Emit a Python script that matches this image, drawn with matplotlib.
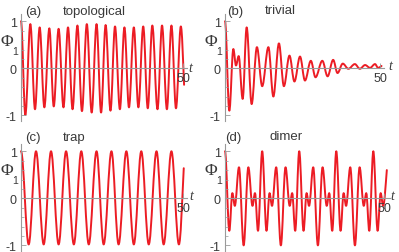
import matplotlib
matplotlib.use("Agg")
import matplotlib.pyplot as plt
from matplotlib.path import Path
from matplotlib.patches import PathPatch

plt.rcParams["axes.unicode_minus"] = False

# turning points of each curve (t, Phi_1);
# the last entry is where the curve stops
topo_t = [0, 1.34, 2.88, 4.32, 5.76, 7.20, 8.74, 10.1, 11.6, 13.1, 14.5, 15.9,
          17.4, 18.8, 20.3, 21.8, 23.3, 24.7, 26.1, 27.6, 29.0, 30.5, 31.9, 33.3,
          34.8, 36.2, 37.7, 39.1, 40.5, 42.1, 43.5, 45.0, 46.4, 47.8, 49.3, 50.3]
topo_v = [1.0, -0.99, 0.94, -0.87, 0.87, -0.83, 0.85, -0.81, 0.84, -0.83, 0.87, -0.87,
          0.91, -0.91, 0.94, -0.94, 0.94, -0.94, 0.92, -0.90, 0.89, -0.87, 0.87, -0.83,
          0.87, -0.83, 0.89, -0.85, 0.91, -0.87, 0.91, -0.87, 0.91, -0.85, 0.89, -0.35]

triv_t = [0, 1.40, 2.69, 3.55, 4.41, 5.70, 6.99, 8.60, 10.3, 12.0, 14.0, 15.6, 17.4,
          19.0, 20.8, 22.4, 24.2, 25.8, 27.7, 29.2, 31.4, 33.1, 34.9, 36.3, 38.0,
          39.8, 41.9, 43.5, 45.2, 46.8, 48.4, 49.4, 50.5]
triv_v = [1.0, -0.90, 0.41, 0.06, 0.26, -0.65, 0.87, -0.76, 0.45, -0.38, 0.45, -0.60, 0.53,
          -0.38, 0.27, -0.28, 0.25, -0.26, 0.16, -0.19, 0.16, -0.17, 0.18, -0.10, 0.10,
          -0.01, 0.09, -0.01, 0.07, 0.01, 0.09, 0.01, 0.05]

trap_t = [0, 2.37, 4.63, 7.0, 9.26, 11.6, 13.9, 16.3, 18.6, 20.9, 23.3, 25.5,
          27.9, 30.1, 32.5, 34.8, 37.1, 39.4, 41.8, 44.0, 46.4, 48.7, 50.2]
trap_v = [1.0, -0.98, 1.0, -0.98, 1.0, -0.98, 1.0, -0.98, 1.0, -0.98, 1.0, -0.98,
          1.0, -0.98, 1.0, -0.98, 1.0, -0.98, 1.0, -0.98, 1.0, -0.98, 0.64]

dim_t = [0, 1.36, 2.31, 3.09, 4.40, 5.87, 7.34, 8.65, 9.43, 10.38,
         11.7, 13.06, 14.01, 14.79, 16.1, 17.57, 19.04, 20.35, 21.13, 22.08,
         23.35, 24.71, 25.66, 26.44, 27.75, 29.22, 30.69, 32.0, 32.78, 33.73,
         35.0, 36.36, 37.31, 38.09, 39.4, 40.87, 42.34, 43.65, 44.43, 45.38,
         46.65, 48.01, 48.96, 49.74, 50.9]
dim_v = [1.0, -0.69, 0.11, -0.16, 0.66, -1.0, 0.66, -0.16, 0.11, -0.69,
         1.0, -0.69, 0.11, -0.16, 0.66, -1.0, 0.66, -0.16, 0.11, -0.69,
         1.0, -0.69, 0.11, -0.16, 0.66, -1.0, 0.66, -0.16, 0.11, -0.69,
         1.0, -0.69, 0.11, -0.16, 0.66, -1.0, 0.66, -0.16, 0.11, -0.69,
         1.0, -0.69, 0.11, -0.16, 0.60]

labels = ["(a)", "(b)", "(c)", "(d)"]
names = ["topological", "trivial", "trap", "dimer"]

W, H = 399, 253
red = "#ec1c24"
grey = "#9a9a9a"
txt = "#3a3a3a"


def wave_path(ts, vs, k=0.36):
    # smooth curve through the turning points (flat tangent at each one)
    verts = [(ts[0], vs[0])]
    codes = [Path.MOVETO]
    n = len(ts)
    for i in range(n - 1):
        t0, v0, t1, v1 = ts[i], vs[i], ts[i + 1], vs[i + 1]
        dt = t1 - t0
        c1 = (t0 + k * dt, v0)
        if i + 1 < n - 1:
            c2 = (t1 - k * dt, v1)
        else:
            c2 = (t1 - k * dt, v1 + (v0 - v1) * 0.45)
        verts += [c1, c2, (t1, v1)]
        codes += [Path.CURVE4, Path.CURVE4, Path.CURVE4]
    return Path(verts, codes)


def ptext(fig, x, y, s, **kw):
    fig.text(x / W, 1 - y / H, s, **kw)


fig = plt.figure(figsize=(W / 100, H / 100), dpi=100)

# left px, top px, width px, xmax
boxes = [(21, 15, 166, 51.2), (225, 15, 159, 51.3),
         (21, 145, 166, 51.2), (225, 145, 165, 51.9)]
series = [(topo_t, topo_v), (triv_t, triv_v), (trap_t, trap_v), (dim_t, dim_v)]

for i, ((left, top, width, xmax), (ts, vs)) in enumerate(zip(boxes, series)):
    ax = fig.add_axes([left / W, (H - top - 107) / H, width / W, 107 / H])
    ax.set_xlim(0, xmax)
    ax.set_ylim(-1.12, 1.155)
    ax.patch.set_visible(False)
    for s in ["top", "right"]:
        ax.spines[s].set_visible(False)
    for s in ["left", "bottom"]:
        ax.spines[s].set_position(("data", 0))
        ax.spines[s].set_color(grey)
        ax.spines[s].set_linewidth(0.8)
    ax.set_xticks([50])
    ax.set_yticks([-1, 0, 1])
    ax.set_yticks([-0.8, -0.6, -0.4, -0.2, 0.2, 0.4, 0.6, 0.8], minor=True)
    ax.tick_params(direction="in", length=3.5, width=0.6, color=grey,
                   labelsize=9, labelcolor=txt, pad=3)
    ax.tick_params(which="minor", direction="in", length=1.8, width=0.5, color=grey)
    for lab in ax.get_xticklabels() + ax.get_yticklabels():
        lab.set_family("Liberation Sans")

    patch = PathPatch(wave_path(ts, vs), facecolor="none", edgecolor=red,
                      lw=1.4, clip_on=False, capstyle="round", joinstyle="round")
    ax.add_patch(patch)

# panel titles
base1, base2 = 14.5, 140.5
title_pos = [(25, 63, base1), (227, 265, base1), (25, 63, base2), (225, 270, base2)]
for (xl, xn, yb), lab, name in zip(title_pos, labels, names):
    ptext(fig, xl, yb, lab, fontsize=9.5, color=txt, family="Liberation Sans",
          va="baseline")
    ptext(fig, xn, yb, name, fontsize=9.5, color=txt, family="Liberation Sans",
          va="baseline")

# axis labels
phi_pos = [(7, 42, 15.5, 52), (210.5, 42.5, 219.5, 52),
           (7, 171, 15.5, 181), (210.5, 171, 219.5, 181)]
for xp, yp, xs, ys in phi_pos:
    ptext(fig, xp, yp, "Φ", fontsize=12.5, color=txt, family="Liberation Serif",
          ha="center", va="center")
    ptext(fig, xs, ys, "1", fontsize=7.5, color=txt, family="Liberation Sans",
          ha="center", va="center")

t_pos = [(190, 68), (390, 66), (191, 197), (392, 197)]
for xt, yt in t_pos:
    ptext(fig, xt, yt, "t", fontsize=10, color=txt, family="Liberation Serif",
          style="italic", ha="center", va="center")

fig.savefig("out.png", dpi=100)
